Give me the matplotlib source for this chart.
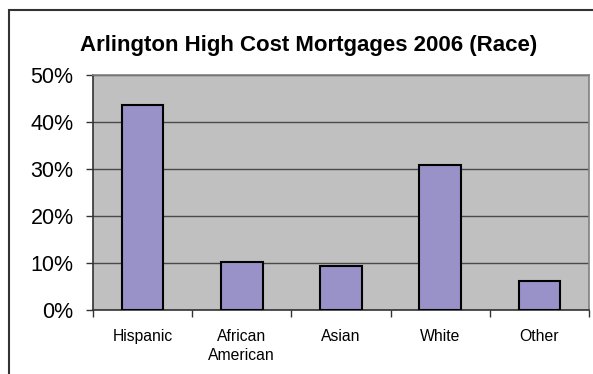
import matplotlib
matplotlib.use("Agg")
import matplotlib.pyplot as plt
from matplotlib.patches import Rectangle
from matplotlib.ticker import FixedLocator, NullFormatter

categories = ["Hispanic", "African\nAmerican", "Asian", "White", "Other"]
values = [43.6, 10.3, 9.4, 30.8, 6.1]
yticks = [0, 10, 20, 30, 40, 50]
ytick_labels = ["0%", "10%", "20%", "30%", "40%", "50%"]
title = "Arlington High Cost Mortgages 2006 (Race)"

plt.rcParams['font.family'] = ['Liberation Sans', 'DejaVu Sans']

W, H = 593, 374
fig = plt.figure(figsize=(W / 100, H / 100), dpi=100)
fig.patch.set_facecolor('white')

# outer chart border (cropped at right/bottom)
fig.add_artist(Rectangle((9 / W, -0.05), 1.1, 1 - 10 / H + 0.05,
                         transform=fig.transFigure, fill=False,
                         edgecolor='#333333', linewidth=1.5))

ax = fig.add_axes([93 / W, 1 - 310 / H, (589 - 93) / W, (310 - 75) / H])
ax.set_facecolor('#C0C0C0')

x = list(range(len(categories)))
ax.bar(x, values, width=0.42, color='#9892C8', edgecolor='black',
       linewidth=1.5, zorder=3)

ax.set_xlim(-0.5, len(categories) - 0.5)
ax.set_ylim(0, 50)
ax.set_yticks(yticks)
ax.set_yticklabels(ytick_labels, fontsize=15.5)
ax.yaxis.grid(True, color='#4a4a4a', linewidth=1.0, zorder=1)
ax.set_axisbelow(True)

ax.set_xticks(x)
ax.set_xticklabels(categories, fontsize=11.3, linespacing=1.3)
ax.tick_params(axis='x', which='major', length=0, pad=14)
ax.xaxis.set_minor_locator(FixedLocator([i - 0.5 for i in range(len(categories) + 1)]))
ax.xaxis.set_minor_formatter(NullFormatter())
ax.tick_params(axis='x', which='minor', length=5, width=1, color='#333333', direction='out')
ax.tick_params(axis='y', length=5, width=1, color='#333333', direction='out', pad=9)

for s in ['top', 'right']:
    ax.spines[s].set_color('#808080')
    ax.spines[s].set_linewidth(1.2)
for s in ['left', 'bottom']:
    ax.spines[s].set_color('#333333')
    ax.spines[s].set_linewidth(1.2)

fig.text(309 / W, 1 - 45 / H, title, ha='center', va='center',
         fontsize=16, fontweight='bold')

fig.savefig("out.png", dpi=100)
